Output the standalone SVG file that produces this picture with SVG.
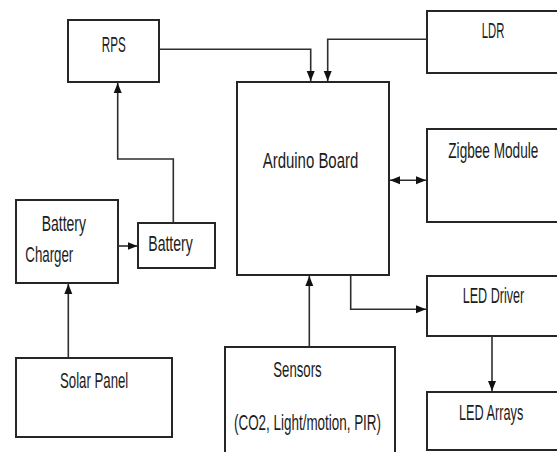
<svg xmlns="http://www.w3.org/2000/svg" width="557" height="452" viewBox="0 0 557 452">
<style>
.box{fill:#fff;stroke:#262626;stroke-width:2}
.lbl{font-family:"Liberation Sans",Arial,sans-serif;font-size:15px;fill:#1c1c1c}
.con{fill:none;stroke:#2e2e2e;stroke-width:1.6}
</style>
<defs>
<marker id="ah" markerUnits="userSpaceOnUse" markerWidth="10" markerHeight="10" viewBox="0 0 10 10" refX="10" refY="5" orient="auto-start-reverse">
<path d="M0,1 L10,5 L0,9 Z" fill="#111"/>
</marker>
</defs>
<rect width="557" height="452" fill="#fff"/>
<g id="rps"><rect class="box" x="68" y="20" width="91" height="62"/><text class="lbl" transform="translate(101.7,51.7) scale(1,1.42)" textLength="24" lengthAdjust="spacingAndGlyphs">RPS</text></g>
<g id="ldr"><rect class="box" x="427" y="11" width="131" height="62"/><text class="lbl" transform="translate(481.7,38.3) scale(1,1.42)" textLength="22.6" lengthAdjust="spacingAndGlyphs">LDR</text></g>
<g id="arduino"><rect class="box" x="237" y="82" width="152" height="193"/><text class="lbl" transform="translate(262.7,168) scale(1,1.42)" textLength="95.6" lengthAdjust="spacingAndGlyphs">Arduino Board</text></g>
<g id="zigbee"><rect class="box" x="427" y="129" width="131" height="93"/><text class="lbl" transform="translate(448.3,158.3) scale(1,1.42)" textLength="90" lengthAdjust="spacingAndGlyphs">Zigbee Module</text></g>
<g id="charger"><rect class="box" x="16" y="200" width="102" height="83"/><text class="lbl" transform="translate(41.7,230.7) scale(1,1.42)" textLength="44.3" lengthAdjust="spacingAndGlyphs">Battery</text><text class="lbl" transform="translate(25.3,261.7) scale(1,1.42)" textLength="48" lengthAdjust="spacingAndGlyphs">Charger</text></g>
<g id="battery"><rect class="box" x="138" y="223" width="77" height="45"/><text class="lbl" transform="translate(148.3,251) scale(1,1.42)" textLength="44.4" lengthAdjust="spacingAndGlyphs">Battery</text></g>
<g id="solar"><rect class="box" x="16" y="358" width="156" height="79"/><text class="lbl" transform="translate(60,388.3) scale(1,1.42)" textLength="68.3" lengthAdjust="spacingAndGlyphs">Solar Panel</text></g>
<g id="sensors"><rect class="box" x="225" y="347" width="170" height="112"/><text class="lbl" transform="translate(273.3,376.7) scale(1,1.42)" textLength="48.4" lengthAdjust="spacingAndGlyphs">Sensors</text><text class="lbl" transform="translate(234,430) scale(1,1.42)" textLength="147" lengthAdjust="spacingAndGlyphs">(CO2, Light/motion, PIR)</text></g>
<g id="leddriver"><rect class="box" x="427" y="276" width="131" height="60"/><text class="lbl" transform="translate(462.7,303.3) scale(1,1.42)" textLength="61.6" lengthAdjust="spacingAndGlyphs">LED Driver</text></g>
<g id="ledarrays"><rect class="box" x="427" y="392" width="131" height="58"/><text class="lbl" transform="translate(459,420) scale(1,1.42)" textLength="64.3" lengthAdjust="spacingAndGlyphs">LED Arrays</text></g>
<g id="connectors">
<path class="con" d="M159,49.3 H310.7 V81" marker-end="url(#ah)"/>
<path class="con" d="M427,39.3 H327.7 V81" marker-end="url(#ah)"/>
<path class="con" d="M390,180.3 H426" marker-start="url(#ah)" marker-end="url(#ah)"/>
<path class="con" d="M118,246 H137.5" marker-end="url(#ah)"/>
<path class="con" d="M173.3,223 V159 H117.7 V83" marker-end="url(#ah)"/>
<path class="con" d="M68.3,358 V284" marker-end="url(#ah)"/>
<path class="con" d="M309.3,347 V276" marker-end="url(#ah)"/>
<path class="con" d="M350.7,275 V309.3 H426" marker-end="url(#ah)"/>
<path class="con" d="M492,336 V391" marker-end="url(#ah)"/>
</g>
</svg>
